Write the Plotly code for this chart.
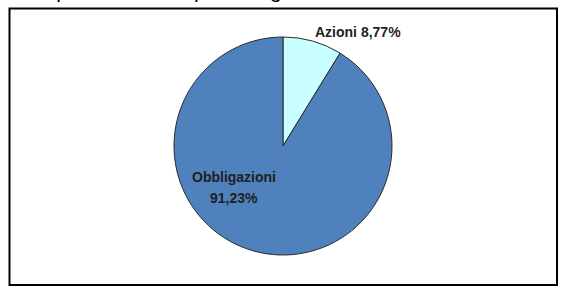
import plotly.graph_objects as go

categories = ["Azioni", "Obbligazioni"]
shares = [8.77, 91.23]
slice_colors = ["#C9FFFF", "#4F81BD"]
title_text = "Composizione titoli per categoria"

W, H = 562, 287

def pct(v):
    return f"{v:.2f}".replace(".", ",") + "%"

fig = go.Figure()
fig.add_trace(go.Pie(
    labels=categories,
    values=shares,
    sort=False,
    direction="clockwise",
    rotation=0,
    marker=dict(colors=slice_colors, line=dict(color="#2b2b2b", width=1)),
    textinfo="none",
    hoverinfo="skip",
    showlegend=False,
    domain=dict(x=[(283 - 111) / W, (283 + 111) / W],
                y=[(H - 146 - 109) / H, (H - 146 + 109) / H]),
))

lab_font = dict(family="Liberation Sans, Arial, sans-serif", size=14, color="#1f1f1f")

def px(x):
    return x / W

def py(y):
    return 1 - y / H

annotations = [
    dict(x=px(358), y=py(32), xref="paper", yref="paper", showarrow=False,
         text=f"<b>{categories[0]} {pct(shares[0])}</b>", font=lab_font,
         xanchor="center", yanchor="middle"),
    dict(x=px(234), y=py(177), xref="paper", yref="paper", showarrow=False,
         text=f"<b>{categories[1]}</b>", font=lab_font,
         xanchor="center", yanchor="middle"),
    dict(x=px(234), y=py(198), xref="paper", yref="paper", showarrow=False,
         text=f"<b>{pct(shares[1])}</b>", font=lab_font,
         xanchor="center", yanchor="middle"),
    dict(x=px(10), y=1, xref="paper", yref="paper", showarrow=False,
         text=title_text,
         font=dict(family="Liberation Sans, Arial, sans-serif", size=21, color="#000000"),
         xanchor="left", yanchor="bottom", yshift=-4),
]

fig.update_layout(
    width=W, height=H,
    margin=dict(l=0, r=0, t=0, b=0),
    paper_bgcolor="white",
    plot_bgcolor="white",
    annotations=annotations,
    shapes=[dict(type="rect", xref="paper", yref="paper",
                 x0=px(9.5), x1=px(557), y0=py(285), y1=py(8.5),
                 line=dict(color="#000000", width=2), fillcolor="rgba(0,0,0,0)")],
)

fig.write_html(
    "out.html",
    config={"displayModeBar": False, "staticPlot": True},
    post_script="document.body.style.margin='0';document.body.style.overflow='hidden';",
)
